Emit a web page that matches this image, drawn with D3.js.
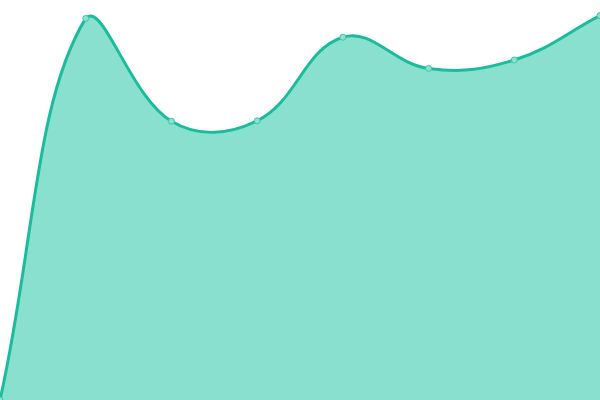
<!DOCTYPE html>
<html><head><meta charset="utf-8">
<script src="https://cdn.jsdelivr.net/npm/d3@7"></script>
<style>html,body{margin:0;padding:0;background:#fff;}svg{display:block;}</style>
</head><body>
<svg id="c" width="600" height="400"></svg>
<script>
const categories = ["A","B","C","D","E","F","G","H"];
const values = [0, 95.4, 69.7, 69.8, 90.7, 82.9, 85.0, 96.1];

const W = 600, H = 400;
const svg = d3.select("#c");
const x = d3.scalePoint().domain(categories).range([0, W]);
const y = d3.scaleLinear().domain([0, 100]).range([H, 0]);
const pts = categories.map((c, i) => ({x: x(c), y: y(values[i])}));

// Chart.js-style spline control points (tension 0.4) with capping to area
const t = 0.4;
const cps = pts.map((cur, i) => {
  const prev = i > 0 ? pts[i-1] : cur;
  const next = i < pts.length - 1 ? pts[i+1] : cur;
  const d01 = Math.hypot(cur.x - prev.x, cur.y - prev.y);
  const d12 = Math.hypot(next.x - cur.x, next.y - cur.y);
  let s01 = d01 / (d01 + d12), s12 = d12 / (d01 + d12);
  if (isNaN(s01)) s01 = 0; if (isNaN(s12)) s12 = 0;
  const fa = t * s01, fb = t * s12;
  const cap = (p) => ({x: Math.max(0, Math.min(W, p.x)), y: Math.max(0, Math.min(H, p.y))});
  return {
    prev: cap({x: cur.x - fa * (next.x - prev.x), y: cur.y - fa * (next.y - prev.y)}),
    next: cap({x: cur.x + fb * (next.x - prev.x), y: cur.y + fb * (next.y - prev.y)})
  };
});
function linePath(p) {
  p.moveTo(pts[0].x, pts[0].y);
  for (let i = 1; i < pts.length; i++) {
    p.bezierCurveTo(cps[i-1].next.x, cps[i-1].next.y, cps[i].prev.x, cps[i].prev.y, pts[i].x, pts[i].y);
  }
  return p;
}
const ap = linePath(d3.path());
ap.lineTo(pts[pts.length-1].x, y(0));
ap.lineTo(pts[0].x, y(0));
ap.closePath();
svg.append("path").attr("d", ap.toString()).attr("fill", "#89e0cf");
svg.append("path").attr("d", linePath(d3.path()).toString())
  .attr("fill", "none").attr("stroke", "#1abc9c").attr("stroke-width", 3);
svg.selectAll("circle").data(pts).enter().append("circle")
  .attr("cx", d => d.x).attr("cy", d => d.y).attr("r", 3)
  .attr("fill", "#8ce0cf").attr("stroke", "#3cc7aa").attr("stroke-width", 1);
</script>
</body></html>
